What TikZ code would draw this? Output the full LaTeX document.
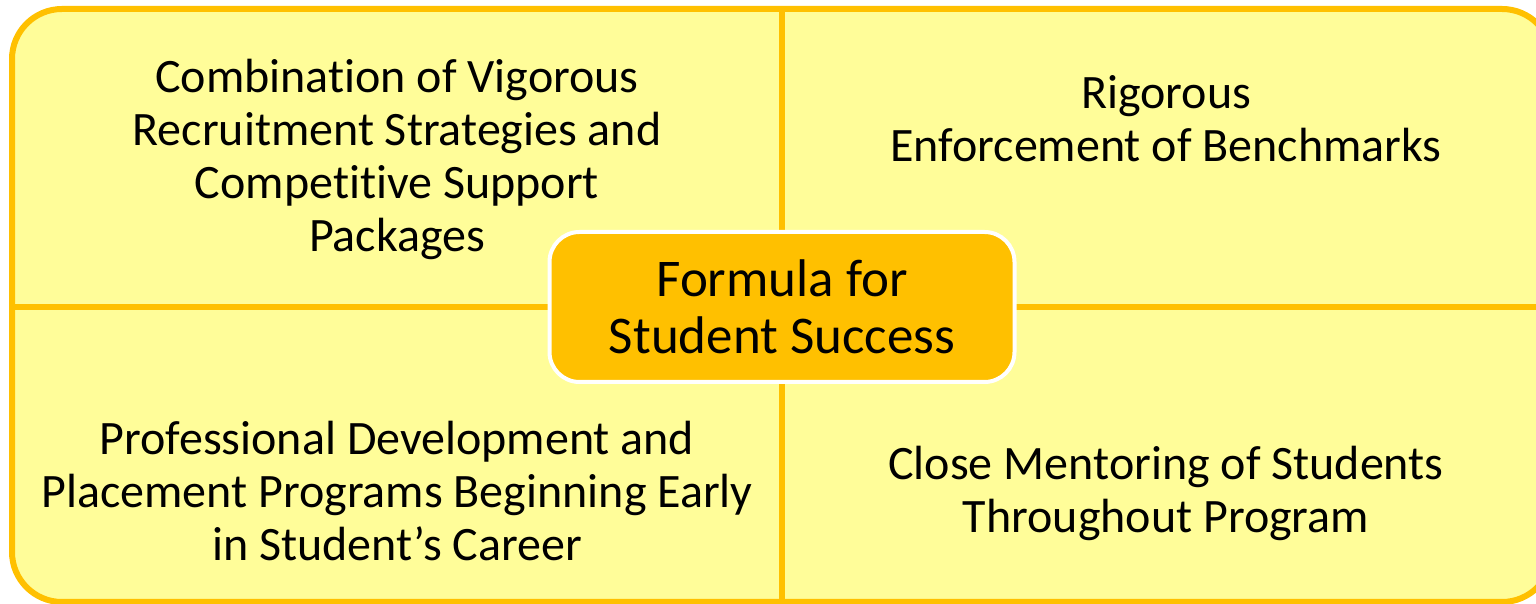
\documentclass[tikz,border=0pt]{standalone}
\usepackage{fontspec}
\setmainfont[Ligatures=CommonOff]{Carlito}
\definecolor{paleyellow}{RGB}{255,253,153}
\definecolor{gold}{RGB}{255,192,0}
\begin{document}
\begin{tikzpicture}[x=1pt,y=1pt,
        quad/.style={align=center,font=\fontsize{48}{53}\selectfont},
        hub/.style={draw=white,line width=4pt,fill=gold,rounded corners=30pt,
            minimum width=465pt,minimum height=150pt,align=center,
            font=\fontsize{53}{57}\selectfont}]
    \useasboundingbox (0,0) rectangle (1536,604);
    \draw[gold,line width=6pt,fill=paleyellow,rounded corners=50pt] (12,2) rectangle (1552,595);
    \coordinate (T) at (782,595);
    \coordinate (B) at (782,2);
    \coordinate (L) at (12,297);
    \coordinate (R) at (1552,297);
    \draw[gold,line width=6pt] (T) -- (B);
    \draw[gold,line width=6pt] (L) -- (R);
    \node[hub] (formula) at (782,297) {Formula for\\Student Success};
    \node[quad] (recruit) at (397,445) {Combination of Vigorous\\Recruitment Strategies and\\Competitive Support\\Packages};
    \node[quad] (bench) at (1166,485) {Rigorous\\Enforcement of Benchmarks};
    \node[quad] (placement) at (397,113) {Professional Development and\\Placement Programs Beginning Early\\in Student’s Career};
    \node[quad] (mentor) at (1166,111) {Close Mentoring of Students\\Throughout Program};
\end{tikzpicture}
\end{document}
